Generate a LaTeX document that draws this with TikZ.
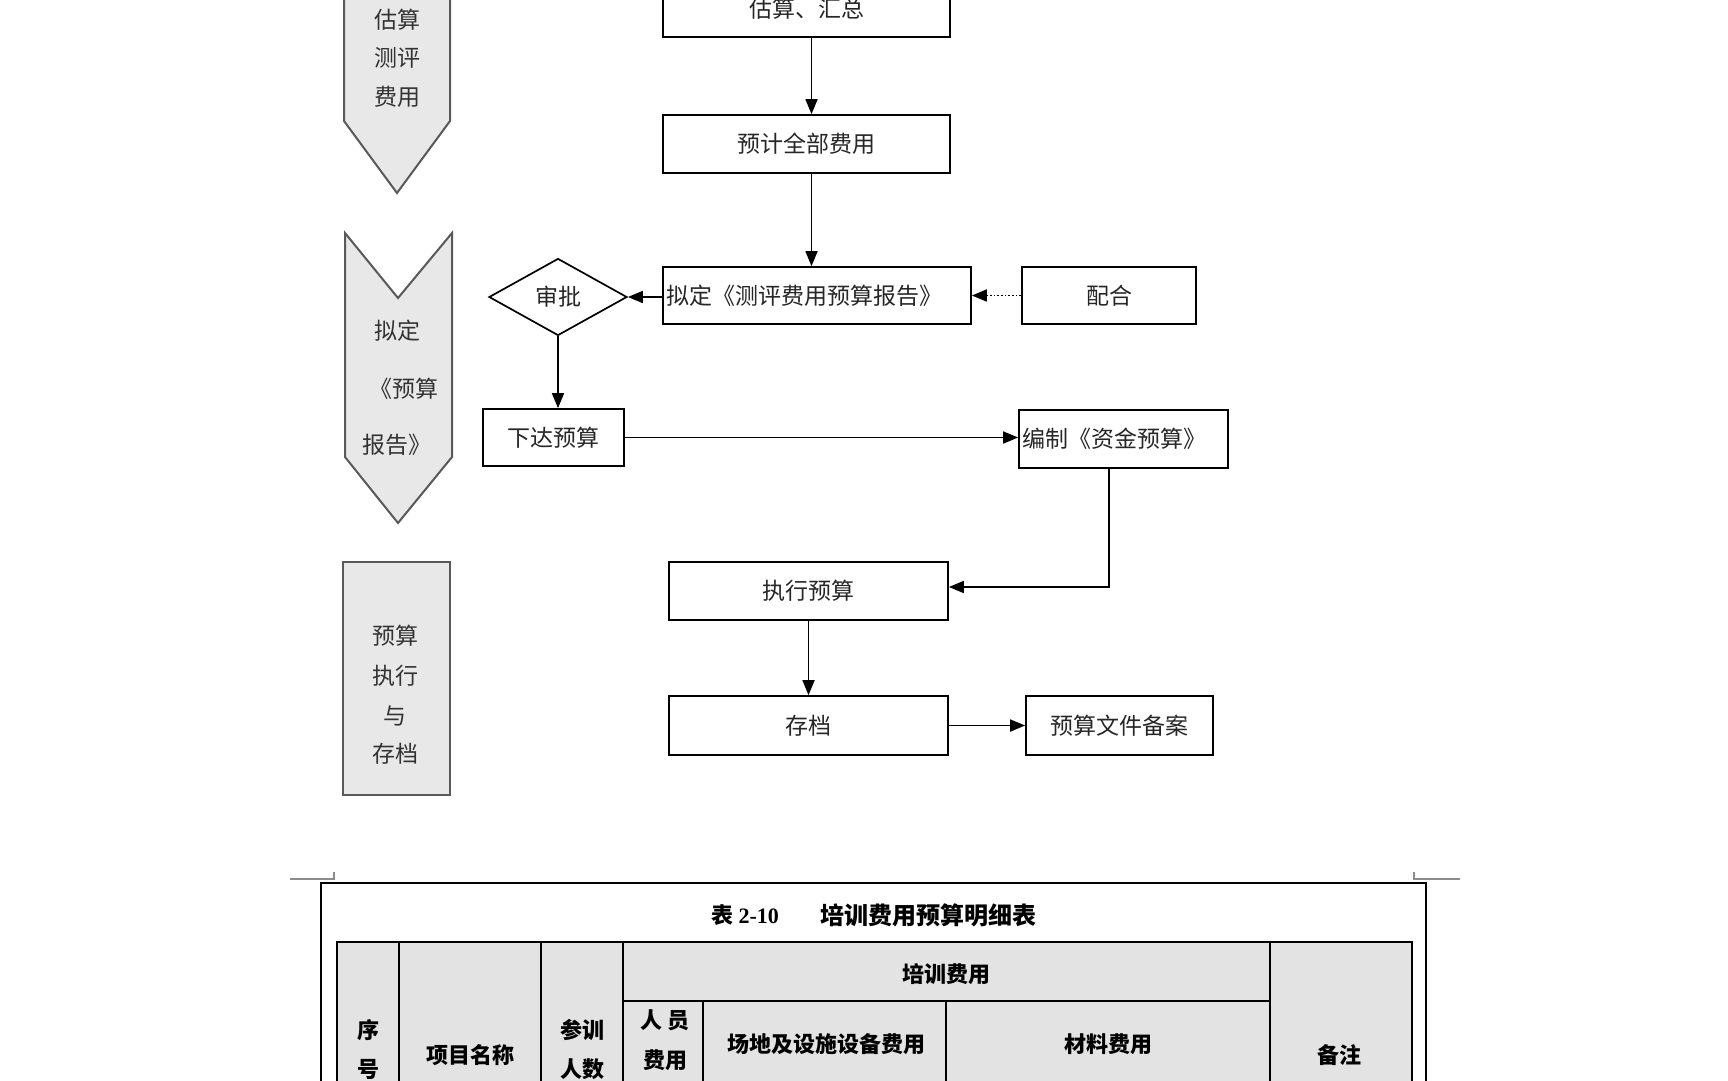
\documentclass[tikz,border=0pt]{standalone}
\usepackage{fontspec}
\setmainfont{Liberation Serif}
\newfontfamily\cjk{Noto Sans CJK SC}
\usetikzlibrary{arrows.meta,shapes.geometric}
\begin{document}
\begin{tikzpicture}[x=1pt,y=-1pt,
  box/.style={draw=black,line width=1.7pt,rectangle,inner sep=3pt,text=black!85,
    font=\cjk\fontsize{23}{27}\selectfont},
  lbl/.style={inner sep=0pt,text=black!80,font=\cjk\fontsize{23}{27}\selectfont},
  tlbl/.style={inner sep=0pt,text=black,font=\cjk\bfseries\fontsize{22}{26}\selectfont},
  arr/.style={line width=1.7pt,-{Triangle[length=15pt,width=12pt]}},
  band/.style={fill=black!9,draw=black!65,line width=2pt,line join=miter},
]
\useasboundingbox (0,0) rectangle (1728,1080);
\fill[white] (0,0) rectangle (1728,1080);

% ---------- left phase bands ----------
\draw[band] (344,-20) -- (450,-20) -- (450,121) -- (397,193) -- (344,121) -- cycle;
\node[lbl] (c1a) at (397,20) {估算};
\node[lbl] (c1b) at (397,58) {测评};
\node[lbl] (c1c) at (397,97) {费用};

\draw[band] (345,233) -- (398,298) -- (452,233) -- (452,457) -- (398,523) -- (345,457) -- cycle;
\node[lbl] (c2a) at (397,331) {拟定};
\node[lbl] (c2b) at (404,389) {《预算};
\node[lbl] (c2c) at (397,445) {报告》};

\draw[band] (343,562) rectangle (450,795);
\node[lbl] (c3a) at (395,636) {预算};
\node[lbl] (c3b) at (395,676) {执行};
\node[lbl] (c3c) at (395,716) {与};
\node[lbl] (c3d) at (395,754) {存档};

% ---------- flow nodes ----------
\node[box,minimum width=287pt,minimum height=57pt] (b1) at (806.5,8.5) {估算、汇总};
\node[box,minimum width=287pt,minimum height=58pt] (b2) at (806.5,144) {预计全部费用};
\node[box,minimum height=57pt,text width=302pt,align=left] (b3) at (817,295.5) {拟定《测评费用预算报告》};
\node[box,minimum width=174pt,minimum height=57pt] (b4) at (1109,295.5) {配合};
\node[draw=black,line width=1.7pt,diamond,minimum width=138pt,minimum height=77pt,inner sep=0pt,
  text=black!85,font=\cjk\fontsize{23}{27}\selectfont] (d) at (558,297) {审批};
\node[box,minimum width=141pt,minimum height=57pt] (b5) at (553.5,437.5) {下达预算};
\node[box,minimum height=58pt,text width=203pt,align=left] (b6) at (1123.5,439) {编制《资金预算》};
\node[box,minimum width=279pt,minimum height=58pt] (b7) at (808.5,591) {执行预算};
\node[box,minimum width=279pt,minimum height=59pt] (b8) at (808.5,725.5) {存档};
\node[box,minimum width=187pt,minimum height=59pt] (b9) at (1119.5,725.5) {预算文件备案};

% ---------- connectors ----------
\draw[arr] ([xshift=5pt]b1.south) -- ([xshift=5pt]b2.north);
\draw[arr] ([xshift=5pt]b2.south) -- ([xshift=5pt]b2.south |- b3.north);
\draw[arr] (b3.west |- d.east) -- (d.east);
\draw[arr,dotted] (b4.west) -- (b3.east);
\draw[arr] (d.south) -- (d.south |- b5.north);
\draw[arr] (b5.east) -- (b5.east -| b6.west);
\draw[arr] ([xshift=-14.5pt]b6.south) |- ([yshift=4pt]b7.east);
\draw[arr] (b7.south) -- (b8.north);
\draw[arr] (b8.east) -- (b9.west);

% ---------- table ----------
\draw[black!45,line width=1.2pt] (290,879) -- (334,879) -- (334,872);
\draw[black!45,line width=1.2pt] (1414,872) -- (1414,879) -- (1460,879);
\draw[black,line width=2pt] (321,1100) -- (321,883) -- (1426,883) -- (1426,1100);

\node[inner sep=0pt,font=\bfseries\fontsize{22}{26}\selectfont] (tn) at (745,915) {{\cjk 表} 2-10};
\node[tlbl,font=\cjk\bfseries\fontsize{24}{28}\selectfont] (tt) at (928,915) {培训费用预算明细表};

\fill[black!11] (337,942) rectangle (1412,1100);
\draw[black,line width=2pt] (337,1100) -- (337,942) -- (1412,942) -- (1412,1100);
\draw[black,line width=2pt] (399,942) -- (399,1100);
\draw[black,line width=2pt] (541,942) -- (541,1100);
\draw[black,line width=2pt] (623,942) -- (623,1100);
\draw[black,line width=2pt] (1270,942) -- (1270,1100);
\draw[black,line width=2pt] (623,1001) -- (1270,1001);
\draw[black,line width=2pt] (703,1001) -- (703,1100);
\draw[black,line width=2pt] (946,1001) -- (946,1100);

\node[tlbl] (t1a) at (368,1030) {序};
\node[tlbl] (t1b) at (368,1069) {号};
\node[tlbl] (t2) at (470,1055) {项目名称};
\node[tlbl] (t3a) at (582,1030) {参训};
\node[tlbl] (t3b) at (582,1069) {人数};
\node[tlbl] (t4) at (946,974) {培训费用};
\node[tlbl] (t5a) at (665,1020) {人\hspace{6pt}员};
\node[tlbl] (t5b) at (665,1060) {费用};
\node[tlbl] (t6) at (826,1044) {场地及设施设备费用};
\node[tlbl] (t7) at (1108,1044) {材料费用};
\node[tlbl] (t8) at (1339,1055) {备注};
\end{tikzpicture}
\end{document}
